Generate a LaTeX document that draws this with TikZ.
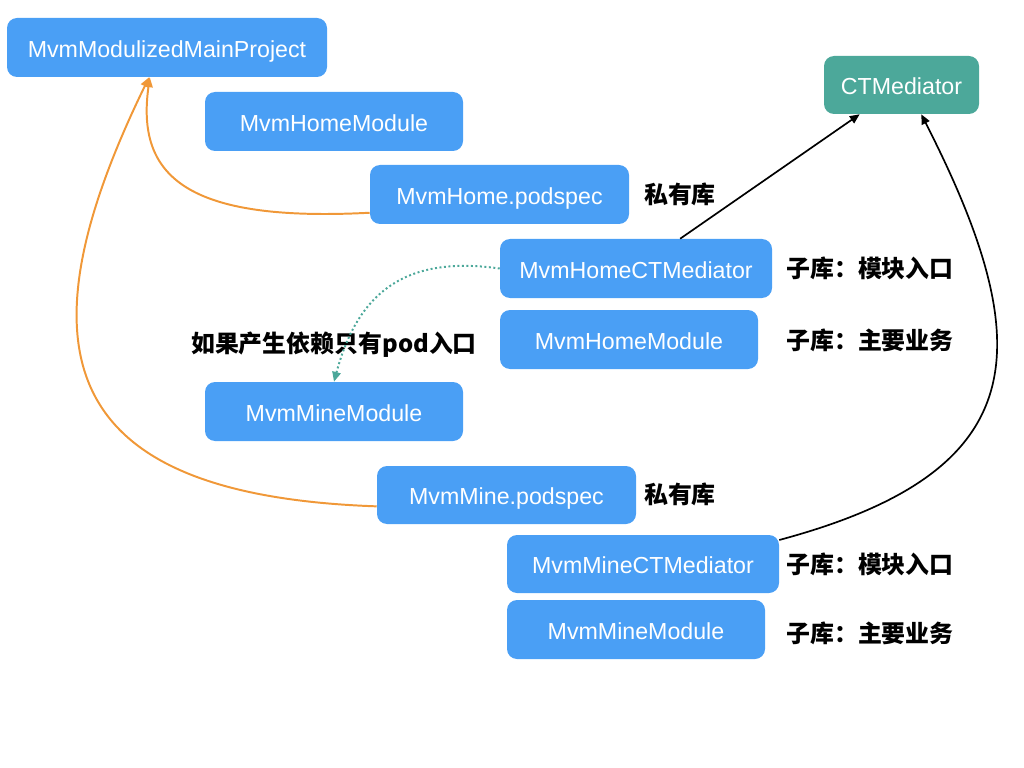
\documentclass[tikz,border=0pt]{standalone}
\usepackage{fontspec}
\setmainfont{Liberation Sans}
\newfontfamily\cjk{Noto Sans CJK SC}
\usetikzlibrary{arrows.meta,positioning}
\definecolor{boxblue}{RGB}{74,159,245}
\definecolor{hubteal}{RGB}{76,168,154}
\definecolor{linkorange}{RGB}{240,152,56}
\begin{document}
\begin{tikzpicture}[>={Triangle[length=7pt,width=6pt]},
    modbox/.style={rectangle, rounded corners=0.25cm, fill=boxblue, text=white,
      minimum height=1.475cm, text height=13.6pt, text depth=0pt,
      font=\fontsize{16.5}{20}\selectfont},
    hubbox/.style={modbox, fill=hubteal},
    tag/.style={font=\cjk\bfseries\fontsize{17}{20}\selectfont},
    dep/.style={->, linkorange, line width=1.4pt},
    call/.style={->, black, line width=1.2pt}]
  \useasboundingbox (0,0) rectangle (25.6,-19.2);
  % main project and mediator
  \node[modbox, minimum width=8cm] at (4.175,-1.1875) (main) {MvmModulizedMainProject};
  \node[hubbox, minimum width=3.875cm, minimum height=1.45cm] at (22.5375,-2.125) (ctm) {CTMediator};
  % home module
  \node[modbox, minimum width=6.45cm] at (8.35,-3.0375) (homemod) {MvmHomeModule};
  \node[modbox, minimum width=6.475cm] at (12.4875,-4.8625) (homepod) {MvmHome.podspec};
  \node[modbox, minimum width=6.8cm] at (15.9,-6.7125) (homectm) {MvmHomeCTMediator};
  \node[modbox, minimum width=6.45cm] at (15.725,-8.4875) (homebiz) {MvmHomeModule};
  % mine module
  \node[modbox, minimum width=6.45cm] at (8.35,-10.2875) (minemod) {MvmMineModule};
  \node[modbox, minimum width=6.475cm, minimum height=1.45cm] at (12.6625,-12.375) (minepod) {MvmMine.podspec};
  \node[modbox, minimum width=6.8cm, minimum height=1.45cm] at (16.075,-14.1) (minectm) {MvmMineCTMediator};
  \node[modbox, minimum width=6.45cm] at (15.9,-15.7375) (minebiz) {MvmMineModule};
  % notes
  \node[tag] at (17.0,-4.85) (homepodtag) {私有库};
  \node[tag] at (21.75,-6.7) (homectmtag) {子库：模块入口};
  \node[tag] at (21.75,-8.5) (homebiztag) {子库：主要业务};
  \node[tag] at (8.35,-8.625) (deptag) {如果产生依赖只有pod入口};
  \node[tag] at (17.0,-12.35) (minepodtag) {私有库};
  \node[tag] at (21.75,-14.1) (minectmtag) {子库：模块入口};
  \node[tag] at (21.75,-15.825) (minebiztag) {子库：主要业务};
  % links
  \draw[dep] (homepod.188) to[out=183, in=-98, out looseness=1.8] (main.240);
  \draw[dep] (minepod.185) to[out=178, in=-116, looseness=1.65] (main.239);
  \draw[call] (homectm.34) -- (ctm.215);
  \draw[call] (minectm.10) to[out=15, in=-63, looseness=1.5] (ctm.304);
  \draw[->, hubteal, line width=1.4pt, dash pattern=on 1.4pt off 1.8pt]
    (homectm.west) to[out=172, in=75, looseness=1.2] (minemod.north);
\end{tikzpicture}
\end{document}
